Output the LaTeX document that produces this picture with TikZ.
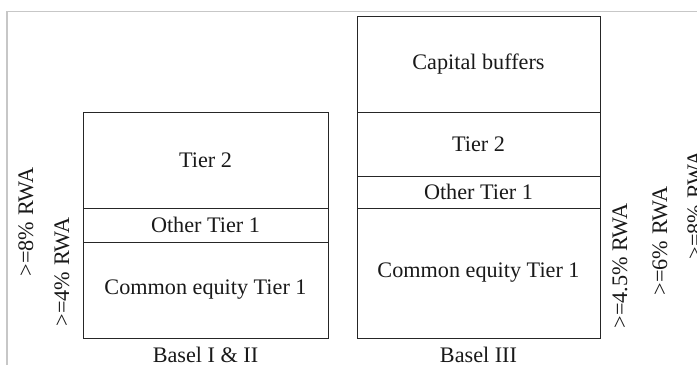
\documentclass[tikz,border=0pt]{standalone}
\usepackage{fontspec}
\setmainfont{Liberation Serif}
\begin{document}
\begin{tikzpicture}[x=1pt,y=-1pt,
  seg/.style={draw=black!85, line width=1pt, inner sep=0pt, font=\fontsize{22.2}{26}\selectfont, text=black!90},
  lbl/.style={inner sep=0pt, font=\fontsize{22.2}{26}\selectfont, text=black!90},
  rlbl/.style={inner sep=0pt, rotate=90, font=\fontsize{22.2}{26}\selectfont, text=black!90}]
\useasboundingbox (0,0) rectangle (697,365);
\clip (0,0) rectangle (697,365);
\draw[black!22, line width=1.2pt] (7,365) -- (7,11.5) -- (697,11.5);
% Basel I & II
\node[seg, minimum width=245pt, minimum height=96pt] (lt2) at (205.5,160) {Tier 2};
\node[seg, minimum width=245pt, minimum height=34pt] (lot1) at (205.5,225) {Other Tier 1};
\node[seg, minimum width=245pt, minimum height=96pt] (lcet1) at (205.5,290) {Common equity Tier 1};
% Basel III
\node[seg, minimum width=243pt, minimum height=96pt] (rcb) at (478.5,64) {Capital buffers};
\node[seg, minimum width=243pt, minimum height=64pt] (rt2) at (478.5,144) {Tier 2};
\node[seg, minimum width=243pt, minimum height=32pt] (rot1) at (478.5,192) {Other Tier 1};
\node[seg, minimum width=243pt, minimum height=130pt] (rcet1) at (478.5,273) {Common equity Tier 1};
\node[lbl, anchor=base] (b12) at (205.5,362) {Basel I \& II};
\node[lbl, anchor=base] (b3) at (478.5,362) {Basel III};
% rotated labels
\node[rlbl] (l8) at (26,222) {>=8\% RWA};
\node[rlbl] (l4) at (62,272) {>=4\% RWA};
\node[rlbl] (r45) at (620,266) {>=4.5\% RWA};
\node[rlbl] (r6) at (660,241) {>=6\% RWA};
\node[rlbl] (r8) at (695,205) {>=8\% RWA};
\end{tikzpicture}
\end{document}
